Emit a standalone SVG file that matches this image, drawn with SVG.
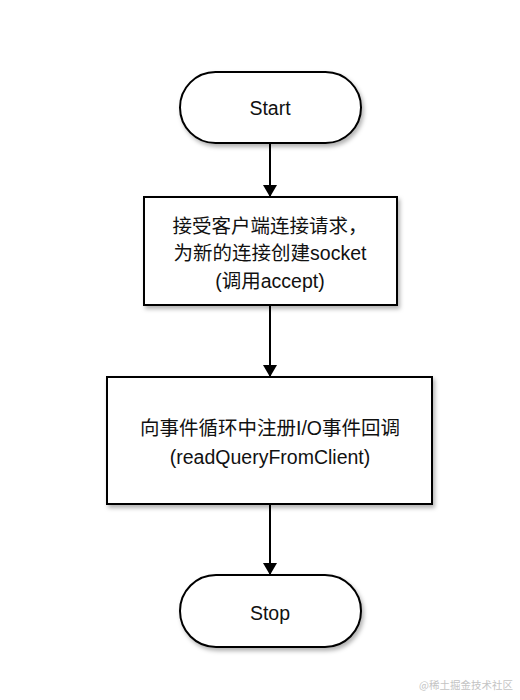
<svg xmlns="http://www.w3.org/2000/svg" width="520" height="700" viewBox="0 0 520 700">
  <defs>
    <filter id="sh" x="-10%" y="-10%" width="130%" height="140%">
      <feDropShadow dx="2" dy="3" stdDeviation="2.2" flood-color="#000" flood-opacity="0.3"/>
    </filter>
    <marker id="arr" viewBox="0 0 12 14" refX="12" refY="7" markerWidth="12" markerHeight="14" markerUnits="userSpaceOnUse" orient="auto">
      <path d="M0,0 L12,7 L0,14 Z" fill="#000"/>
    </marker>
  </defs>
  <style>
    .shape { fill: #fff; stroke: #000; stroke-width: 2; filter: url(#sh); }
    .lbl { font-family: "Liberation Sans", "Noto Sans CJK SC", sans-serif; font-size: 19.5px; fill: #111; text-anchor: middle; dominant-baseline: central; }
    .conn { stroke: #000; stroke-width: 2; fill: none; marker-end: url(#arr); }
    .wm { font-family: "Noto Sans CJK SC", sans-serif; font-size: 10.5px; fill: #c4c4c4; text-anchor: end; }
  </style>
  <rect width="520" height="700" fill="#fff"/>
  <g id="connectors">
    <line class="conn" x1="270" y1="144" x2="270" y2="197"/>
    <line class="conn" x1="270" y1="306" x2="270" y2="377"/>
    <line class="conn" x1="270" y1="505" x2="270" y2="575"/>
  </g>
  <g id="start">
    <rect class="shape" x="180" y="72" width="181" height="71" rx="35.5" ry="35.5"/>
    <text class="lbl" x="270" y="108">Start</text>
  </g>
  <g id="accept">
    <rect class="shape" x="144" y="197" width="253" height="108"/>
    <text class="lbl" x="270" y="226">接受客户端连接请求，</text>
    <text class="lbl" x="270" y="253">为新的连接创建socket</text>
    <text class="lbl" x="270" y="281">(调用accept)</text>
  </g>
  <g id="register">
    <rect class="shape" x="107" y="377" width="325" height="127"/>
    <text class="lbl" x="270" y="428">向事件循环中注册I/O事件回调</text>
    <text class="lbl" x="270" y="457">(readQueryFromClient)</text>
  </g>
  <g id="stop">
    <rect class="shape" x="180" y="575" width="181" height="72" rx="36" ry="36"/>
    <text class="lbl" x="270" y="613">Stop</text>
  </g>
  <text class="wm" x="513" y="689">@稀土掘金技术社区</text>
</svg>
